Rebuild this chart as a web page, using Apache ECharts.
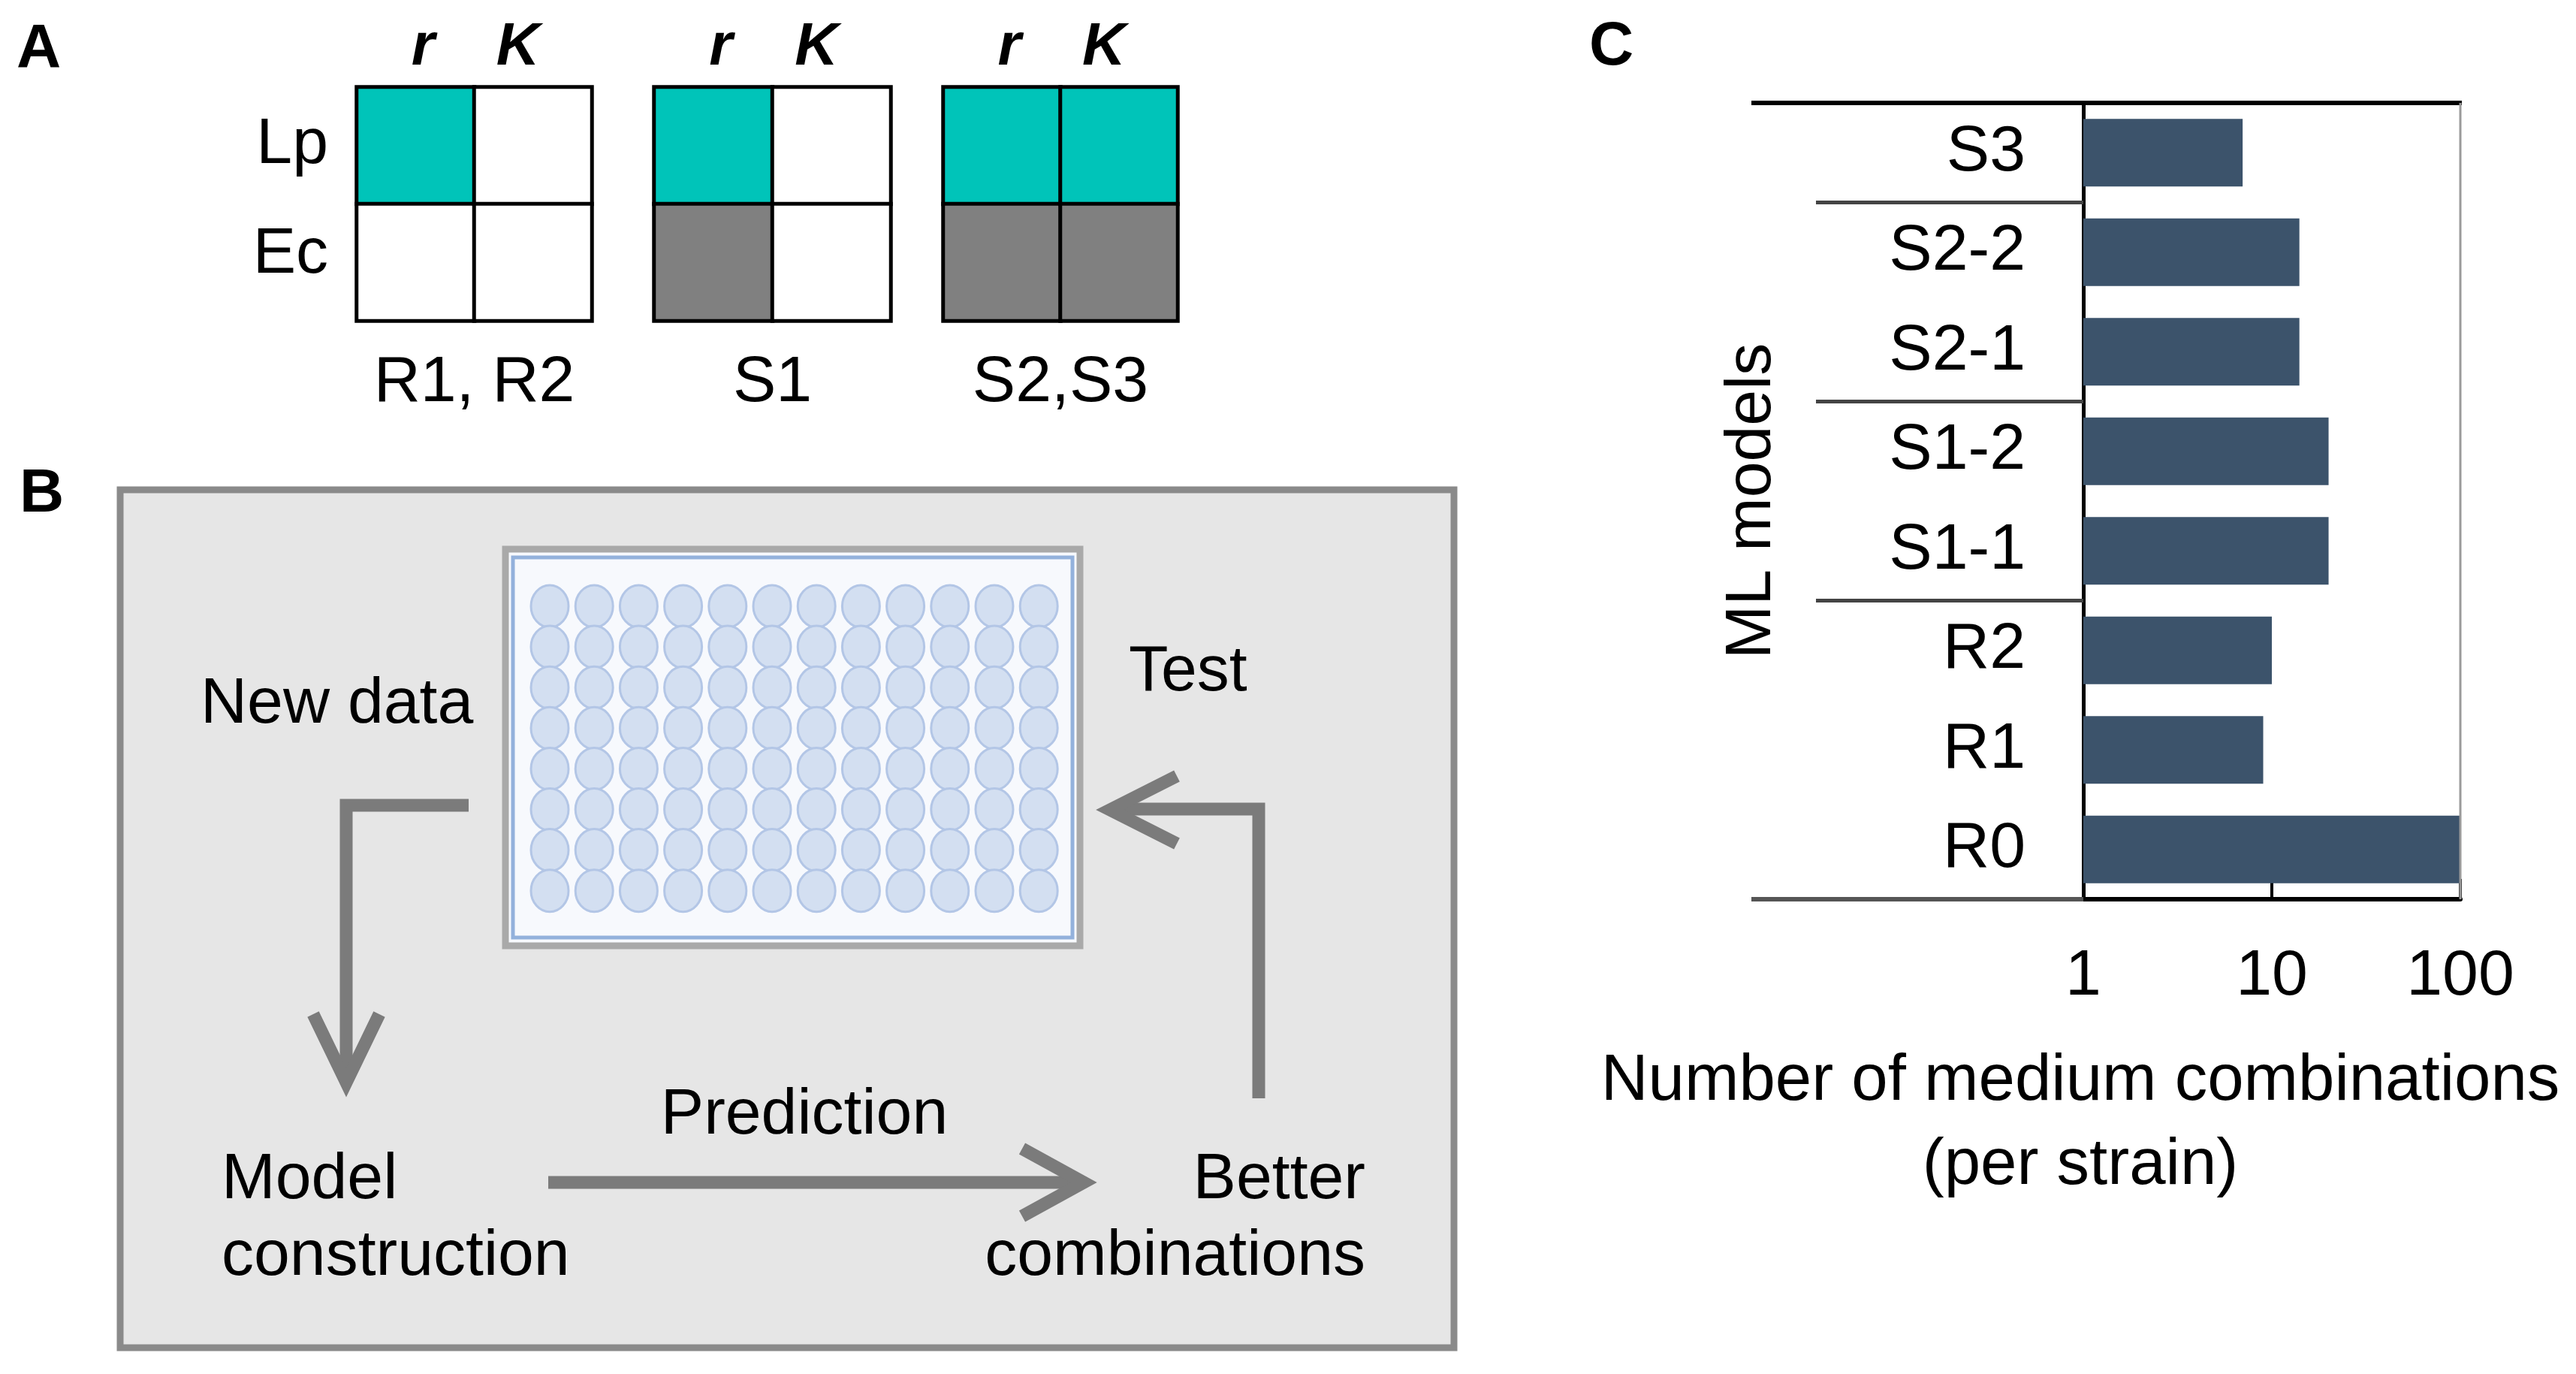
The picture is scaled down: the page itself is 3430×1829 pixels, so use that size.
<!DOCTYPE html>
<html><head><meta charset="utf-8">
<script src="https://cdn.jsdelivr.net/npm/echarts@6/dist/echarts.min.js"></script>
<style>html,body{margin:0;padding:0;background:#fff}#c{width:3430px;height:1829px}</style>
</head><body><div id="c"></div>
<script>
// ---------- Panel A data ----------
const paramLabels = ['r', 'K'];
const strainLabels = ['Ec', 'Lp'];            // bottom-to-top rows
const modelSetLabels = ['R1, R2', 'S1', 'S2,S3'];
const lpFitted = [[1, 0], [1, 0], [1, 1]];    // per model set: [r, K]
const ecFitted = [[0, 0], [1, 0], [1, 1]];
// ---------- Panel B texts ----------
const cycleTexts = ['New data', 'Test', 'Prediction', 'Model\nconstruction', 'Better\ncombinations'];
const plateCols = 12, plateRows = 8;
// ---------- Panel C data ----------
const mlModels = ['R0', 'R1', 'R2', 'S1-1', 'S1-2', 'S2-1', 'S2-2', 'S3'];
const mediumCombinations = [100, 9, 10, 20, 20, 14, 14, 7];
const groupLastModels = ['R2', 'S1-2', 'S2-2'];
const xAxisName = 'Number of medium combinations\n(per strain)';
const yAxisName = 'ML models';

const FONT = "'Liberation Sans', Arial, Helvetica, sans-serif";
const TEAL = '#00c4b9', GREY = '#808080', WHITE = '#ffffff';
const chart = echarts.init(document.getElementById('c'), null, {renderer: 'canvas'});

const gridsA = [
  {left: 475, top: 116, width: 313, height: 311},
  {left: 871, top: 116, width: 315, height: 311},
  {left: 1256, top: 116, width: 312, height: 311}
];
const gridC = {left: 2774, top: 137, width: 502, height: 1060};

const grids = gridsA.concat([gridC]).map(g => Object.assign({containLabel: false, outerBoundsMode: 'none'}, g));
const xAxes = [], yAxes = [], series = [];
const paramStyle = {fontFamily: FONT, fontSize: 80, fontStyle: 'italic', fontWeight: 'bold', color: '#000'};
gridsA.forEach((g, i) => {
  xAxes.push({
    type: 'category', gridIndex: i, data: paramLabels, position: 'top',
    axisLine: {show: false}, axisTick: {show: false},
    axisLabel: Object.assign({}, paramStyle, {margin: 12, interval: 0, hideOverlap: false,
      formatter: (v) => v === 'r' ? '{r|r}' : '{k|K}',
      rich: {r: Object.assign({padding: [0, 0, 0, 20]}, paramStyle),
             k: Object.assign({padding: [0, 40, 0, 0]}, paramStyle)}})
  });
  xAxes.push({
    type: 'category', gridIndex: i, data: paramLabels, position: 'bottom',
    axisLine: {show: false}, axisTick: {show: false}, axisLabel: {show: false},
    name: modelSetLabels[i], nameLocation: 'middle', nameGap: 40,
    nameTextStyle: {fontFamily: FONT, fontSize: 86, color: '#000'}
  });
  yAxes.push({
    type: 'category', gridIndex: i, data: strainLabels,
    axisLine: {show: false}, axisTick: {show: false},
    axisLabel: {show: i === 0, interval: 0, fontFamily: FONT, fontSize: 86, color: '#000', margin: 38,
      formatter: (v) => v === 'Ec' ? '{e|Ec}' : v,
      rich: {e: {fontFamily: FONT, fontSize: 86, color: '#000', padding: [0, 0, 20, 0]}}}
  });
  const data = [];
  for (let c = 0; c < paramLabels.length; c++) {
    data.push({value: [c, 1, lpFitted[i][c]], itemStyle: {color: lpFitted[i][c] ? TEAL : WHITE}});
    data.push({value: [c, 0, ecFitted[i][c]], itemStyle: {color: ecFitted[i][c] ? GREY : WHITE}});
  }
  series.push({
    type: 'heatmap', xAxisIndex: 2 * i, yAxisIndex: i, data: data,
    itemStyle: {borderColor: '#000', borderWidth: 5},
    emphasis: {disabled: true}, silent: true
  });
});

xAxes.push({
  type: 'log', logBase: 10, min: 1, max: 100, gridIndex: 3,
  axisLine: {show: true, lineStyle: {color: '#000', width: 6}},
  axisTick: {show: true, inside: true, length: 27, lineStyle: {color: '#000', width: 4}},
  splitLine: {show: false}, minorTick: {show: false},
  axisLabel: {fontFamily: FONT, fontSize: 86, color: '#000', margin: 60, showMinLabel: true, showMaxLabel: true, hideOverlap: false},
  name: xAxisName, nameLocation: 'middle', nameGap: 187,
  nameTextStyle: {fontFamily: FONT, fontSize: 87, color: '#000', lineHeight: 112, padding: [0, 510, 0, 0]}
});
yAxes.push({
  type: 'category', gridIndex: 3, data: mlModels,
  axisLine: {show: true, lineStyle: {color: '#000', width: 5}},
  axisTick: {show: false},
  axisLabel: {fontFamily: FONT, fontSize: 86, color: '#000', margin: 77, interval: 0},
  name: yAxisName, nameLocation: 'middle', nameGap: 398,
  nameTextStyle: {fontFamily: FONT, fontSize: 86, color: '#000'}
});
series.push({
  type: 'bar', xAxisIndex: 6, yAxisIndex: 3, data: mediumCombinations,
  barWidth: 90, itemStyle: {color: '#3c536b'}, silent: true
});

chart.setOption({
  animation: false, backgroundColor: '#fff',
  grid: grids, xAxis: xAxes, yAxis: yAxes, series: series
});

// ---------- decorations ----------
const els = [];
const txt = (t, x, y, size, opts) => els.push({type: 'text', x: x, y: y, silent: true,
  style: Object.assign({text: t, fontFamily: FONT, fontSize: size, fill: '#000', textVerticalAlign: 'middle', textAlign: 'left'}, opts || {})});
txt('A', 22, 66, 82, {fontWeight: 'bold'});
txt('B', 26, 658, 82, {fontWeight: 'bold'});
txt('C', 2116, 63, 82, {fontWeight: 'bold'});

// Panel B box and plate
els.push({type: 'rect', shape: {x: 160, y: 652, width: 1776, height: 1142}, style: {fill: '#e6e6e6', stroke: '#8a8a8a', lineWidth: 9}, silent: true});
els.push({type: 'rect', shape: {x: 673, y: 731, width: 765, height: 528}, style: {fill: '#f7f9fd', stroke: '#a9a9a9', lineWidth: 9}, silent: true});
els.push({type: 'rect', shape: {x: 683, y: 742, width: 745, height: 506}, style: {fill: 'none', stroke: '#93b1dc', lineWidth: 5}, silent: true});
for (let i = 0; i < plateCols; i++) {
  for (let j = 0; j < plateRows; j++) {
    els.push({type: 'ellipse', shape: {cx: 732 + 59.2 * i, cy: 807 + 54.1 * j, rx: 25, ry: 28},
      style: {fill: '#d3dff1', stroke: '#b3c6e6', lineWidth: 3}, silent: true});
  }
}
const AC = '#7b7b7b', AW = 17;
const pl = (pts) => els.push({type: 'polyline', shape: {points: pts}, style: {stroke: AC, lineWidth: AW, fill: 'none', lineJoin: 'miter', lineCap: 'butt'}, silent: true});
pl([[624, 1072], [461, 1072], [461, 1432]]);
pl([[417, 1350], [461, 1441], [505, 1350]]);
pl([[1676, 1462], [1676, 1077], [1488, 1077]]);
pl([[1567, 1033], [1478, 1078], [1567, 1123]]);
pl([[730, 1574], [1436, 1574]]);
pl([[1361, 1529], [1443, 1574], [1361, 1619]]);

txt(cycleTexts[0], 267, 938, 86);
txt(cycleTexts[1], 1503, 895, 86);
txt(cycleTexts[2], 1071, 1485, 86, {textAlign: 'center'});
txt(cycleTexts[3], 295, 1622, 86, {lineHeight: 102});
txt(cycleTexts[4], 1818, 1622, 86, {lineHeight: 102, textAlign: 'right'});

// Panel C table lines
const pc = (v, cat) => chart.convertToPixel({xAxisIndex: 6, yAxisIndex: 3}, [v, cat]);
const band = Math.abs(pc(1, mlModels[1])[1] - pc(1, mlModels[0])[1]);
const xL = pc(1, mlModels[0])[0], xR = pc(100, mlModels[0])[0];
const yTop = pc(1, mlModels[mlModels.length - 1])[1] - band / 2;
const yBot = pc(1, mlModels[0])[1] + band / 2;
const ln = (x1, y1, x2, y2, c, w) => els.push({type: 'line', shape: {x1: x1, y1: y1, x2: x2, y2: y2}, style: {stroke: c, lineWidth: w}, silent: true, z: 10});
ln(2332, yTop, xR + 2, yTop, '#000', 6);
ln(xR, yTop, xR, yBot, '#9a9a9a', 3);
ln(2332, yBot, xL, yBot, '#555', 6);
groupLastModels.forEach(m => {
  const idx = mlModels.indexOf(m);
  const y = (pc(1, mlModels[idx])[1] + pc(1, mlModels[idx + 1])[1]) / 2;
  ln(2418, y, xL, y, '#444', 5);
});

chart.setOption({graphic: {elements: els}});
</script></body></html>
